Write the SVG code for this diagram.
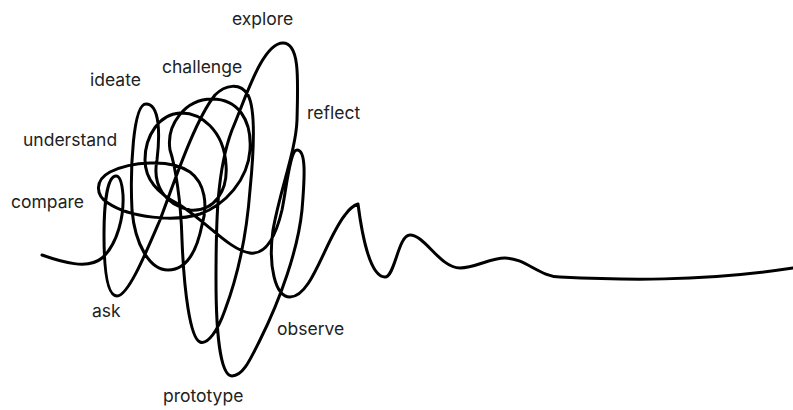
<svg xmlns="http://www.w3.org/2000/svg" width="793" height="410" viewBox="0 0 793 410">
<style>
.lbl{font-family:Inter,"Liberation Sans",sans-serif;font-size:17.5px;fill:#222}
.sq{fill:none;stroke:#000;stroke-width:3;stroke-linecap:round;stroke-linejoin:round}
</style>
<rect width="793" height="410" fill="#fff"/>
<g id="squiggle">
<path class="sq" d="M42,255 C62,262 88,270 102,258 C118,244 124,215 123,195 C122,182 120,176 116,176 C108,176 104,200 104,235 C104,275 108,296 117,296
C128,296 145,255 160,220 C175,180 195,120 215,95 C225,85 240,82 248,95 C256,110 254,150 250,190 C247,230 240,270 225,310 C218,330 208,345 200,342
C190,338 184,290 182,240 C181,200 175,165 170,150 C166,125 185,99 212,99 C238,99 252,120 250,150 C248,180 225,205 200,214
C175,222 130,218 108,203 C95,195 95,180 110,172 C130,162 170,158 190,172 C205,183 208,205 202,225 C196,255 185,270 168,270
C150,270 135,245 132,210 C130,170 133,104 146,104 C160,104 160,135 157,160 C152,185 165,205 190,210 C215,212 228,190 226,165
C224,130 200,112 180,113 C160,114 145,135 145,160 C145,180 160,195 180,205 C210,225 230,250 250,253 C265,255 275,240 282,210
C287,185 290,150 297,150 C306,150 305,175 302,210 C298,250 280,300 260,340 C250,360 243,376 232,376 C220,376 216,330 216,280
C216,220 217,170 232,130 C245,100 262,43 283,43 C300,43 298,80 297,120 C296,150 280,190 273,230 C268,265 275,297 290,297
C312,297 325,240 345,215 C350,208 355,205 358,204 C362,235 370,277 385,277 C395,277 398,235 410,235 C425,235 440,268 460,268
C475,268 490,258 505,258 C525,258 540,277 560,277 C620,280 700,282 793,268"/>
</g>
<g id="labels">
<text class="lbl" x="232" y="25">explore</text>
<text class="lbl" x="90" y="86">ideate</text>
<text class="lbl" x="162" y="73">challenge</text>
<text class="lbl" x="307" y="119">reflect</text>
<text class="lbl" x="23" y="146">understand</text>
<text class="lbl" x="11" y="208">compare</text>
<text class="lbl" x="92" y="317">ask</text>
<text class="lbl" x="277" y="335">observe</text>
<text class="lbl" x="163" y="402">prototype</text>
</g>
</svg>
